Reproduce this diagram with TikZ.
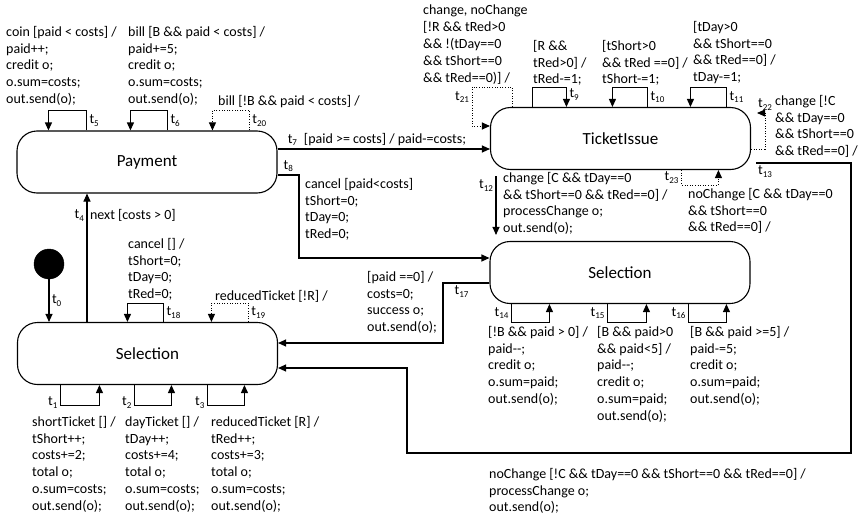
\documentclass[tikz,border=0pt]{standalone}
\usepackage{fontspec}
\setmainfont{Carlito}
\usetikzlibrary{arrows.meta}
\newcommand{\fs}{\fontsize{14}{16.8}\selectfont}
\newcommand{\tlab}[1]{t\raisebox{-2.5pt}{\fontsize{9}{9}\selectfont #1}}
\tikzset{
  state/.style={draw, line width=1.1pt, rounded corners=20pt, minimum width=260pt,
    minimum height=62pt, inner sep=0pt, font=\fontsize{17}{20}\selectfont},
  tr/.style={line width=1.1pt, -{Triangle[length=8pt,width=7pt]}},
  dtr/.style={tr, line width=1pt, dash pattern=on 1pt off 1.6pt},
  txt/.style={anchor=north west, inner sep=0pt, align=left, font=\fs},
  lab/.style={inner sep=2.5pt, font=\fs},
}

\begin{document}
\begin{tikzpicture}[x=1pt, y=-1pt]
  \useasboundingbox (0,0) rectangle (859,514);
  % states
  \node[state] (pay) at (147,162) {Payment};
  \node[state] (tick) at (620.5,138.5) {TicketIssue};
  \node[state] (selR) at (620,272.5) {Selection};
  \node[state] (selL) at (147.5,353.5) {Selection};
  \node[draw, fill, circle, minimum size=30pt, inner sep=0pt] (init) at (49,264) {};

  % bend points
  \coordinate (k4) at (87,0);
  \coordinate (k7) at (0,149);
  \coordinate (k8a) at (299,175);
  \coordinate (k8b) at (299,258);
  \coordinate (k12) at (496,0);
  \coordinate (k13a) at (851,163);
  \coordinate (k13b) at (851,453);
  \coordinate (k13c) at (407,453);
  \coordinate (k13d) at (407,368);
  \coordinate (k17a) at (443,283);
  \coordinate (k17b) at (443,343);
  \coordinate (k21a) at (512,87);
  \coordinate (k21b) at (472,126);
  \coordinate (k22a) at (765,149);
  \coordinate (k22b) at (765,113);

  % Selection (left)
  \draw[tr] (init) -- node[lab, right]{\tlab{0}} (selL.north -| init);
  \draw[tr] (selL.north -| k4) -- node[lab, left, pos=0.83]{\tlab{4}}
    node[lab, right, pos=0.83]{next [costs > 0]} (pay.south -| k4);
  \draw[tr] ([xshift=146.5pt]selL.north west) -- node[lab, right]{\tlab{18}} ++(0,-18.5) -| ([xshift=110.5pt]selL.north west);
  \draw[dtr] ([xshift=231.5pt]selL.north west) -- node[lab, right]{\tlab{19}} ++(0,-18.5) -| ([xshift=194.5pt]selL.north west);
  \draw[tr] ([xshift=43.5pt]selL.south west) -- node[lab, left, pos=0.85]{\tlab{1}} ++(0,20.5) -| ([xshift=82.5pt]selL.south west);
  \draw[tr] ([xshift=117.5pt]selL.south west) -- node[lab, left, pos=0.85]{\tlab{2}} ++(0,20.5) -| ([xshift=154.5pt]selL.south west);
  \draw[tr] ([xshift=190.5pt]selL.south west) -- node[lab, left, pos=0.85]{\tlab{3}} ++(0,20.5) -| ([xshift=227.5pt]selL.south west);

  % Payment
  \draw[tr] ([xshift=70pt]pay.north west) -- node[lab, right]{\tlab{5}} ++(0,-20) -| ([xshift=32pt]pay.north west);
  \draw[tr] ([xshift=151pt]pay.north west) -- node[lab, right]{\tlab{6}} ++(0,-20) -| ([xshift=114pt]pay.north west);
  \draw[dtr] ([xshift=233pt]pay.north west) -- node[lab, right]{\tlab{20}} ++(0,-20) -| ([xshift=196pt]pay.north west);
  \draw[tr] (pay.east |- k7) -- node[lab, above, pos=0.07]{\tlab{7}}
    node[lab, above right, pos=0.11]{[paid >= costs] / paid-=costs;} (tick.west |- k7);
  \draw[tr] (pay.east |- k8a) -- node[lab, above]{\tlab{8}} (k8a) -- (k8b) -- (selR.west |- k8b);

  % TicketIssue
  \draw[dtr] (tick.north -| k21a) -- (k21a) -| node[lab, left, pos=0.63]{\tlab{21}} (k21b) -- (tick.west |- k21b);
  \draw[tr] ([xshift=42.5pt]tick.north west) -- ++(0,-19.5) -| node[lab, right, pos=0.68]{\tlab{9}} ([xshift=76.5pt]tick.north west);
  \draw[tr] ([xshift=157.5pt]tick.north west) -- node[lab, right]{\tlab{10}} ++(0,-19.5) -| ([xshift=122.5pt]tick.north west);
  \draw[tr] ([xshift=236.5pt]tick.north west) -- node[lab, right]{\tlab{11}} ++(0,-19.5) -| ([xshift=200.5pt]tick.north west);
  \draw[dtr, shorten >=6pt] (tick.east |- k22a) -- (k22a) -- (k22b) node[lab, above]{\tlab{22}} -- (tick.east |- k22b);
  \draw[dtr] ([xshift=191.5pt]tick.south west) -- node[lab, left]{\tlab{23}} ++(0,15) -| ([xshift=228.5pt]tick.south west);
  \draw[tr, shorten <=6pt, shorten >=6pt] (tick.south -| k12) -- node[lab, left, pos=0.22]{\tlab{12}} (selR.north -| k12);
  \draw[tr, shorten <=5pt] (tick.east |- k13a) -- node[lab, below, pos=0.14]{\tlab{13}} (k13a) -- (k13b) -- (k13c) -- (k13d) -- (selL.east |- k13d);

  % Selection (right)
  \draw[tr] (selR.west |- k17a) -- node[lab, below, pos=0.6]{\tlab{17}} (k17a) -- (k17b) -- (selL.east |- k17b);
  \draw[tr] ([xshift=22pt]selR.south west) -- node[lab, left]{\tlab{14}} ++(0,18.5) -| ([xshift=60pt]selR.south west);
  \draw[tr] ([xshift=118pt]selR.south west) -- node[lab, left]{\tlab{15}} ++(0,18.5) -| ([xshift=157pt]selR.south west);
  \draw[tr] ([xshift=199pt]selR.south west) -- node[lab, left]{\tlab{16}} ++(0,18.5) -| ([xshift=237pt]selR.south west);

  % transition texts
  \node[txt] (x5) at (6,26) {coin [paid < costs] /\\paid++;\\credit o;\\o.sum=costs;\\out.send(o);};
  \node[txt] (x6) at (128,26) {bill [B \&\& paid < costs] /\\paid+=5;\\credit o;\\o.sum=costs;\\out.send(o);};
  \node[txt] (x20) at (218,95) {bill [!B \&\& paid < costs] /};
  \node[txt] (x8) at (305,178) {cancel [paid<costs]\\tShort=0;\\tDay=0;\\tRed=0;};
  \node[txt] (x18) at (128,238) {cancel [] /\\tShort=0;\\tDay=0;\\tRed=0;};
  \node[txt] (x19) at (215,290) {reducedTicket [!R] /};
  \node[txt] (x17) at (367,271) {[paid ==0] /\\costs=0;\\success o;\\out.send(o);};
  \node[txt] (x1) at (32,416) {shortTicket [] /\\tShort++;\\costs+=2;\\total o;\\o.sum=costs;\\out.send(o);};
  \node[txt] (x2) at (125,416) {dayTicket [] /\\tDay++;\\costs+=4;\\total o;\\o.sum=costs;\\out.send(o);};
  \node[txt] (x3) at (211,416) {reducedTicket [R] /\\tRed++;\\costs+=3;\\total o;\\o.sum=costs;\\out.send(o);};
  \node[txt] (x14) at (488,326) {[!B \&\& paid > 0] /\\paid-{}-;\\credit o;\\o.sum=paid;\\out.send(o);};
  \node[txt] (x15) at (597,326) {[B \&\& paid>0\\\&\& paid<5] /\\paid-{}-;\\credit o;\\o.sum=paid;\\out.send(o);};
  \node[txt] (x16) at (690,326) {[B \&\& paid >=5] /\\paid-=5;\\credit o;\\o.sum=paid;\\out.send(o);};
  \node[txt] (x13) at (489,468) {noChange [!C \&\& tDay==0 \&\& tShort==0 \&\& tRed==0] /\\processChange o;\\out.send(o);};
  \node[txt] (x12) at (503,172) {change [C \&\& tDay==0\\\&\& tShort==0 \&\& tRed==0] /\\processChange o;\\out.send(o);};
  \node[txt] (x23) at (688,188) {noChange [C \&\& tDay==0\\\&\& tShort==0\\\&\& tRed==0] /};
  \node[txt] (x22) at (775,95) {change [!C\\\&\& tDay==0\\\&\& tShort==0\\\&\& tRed==0] /};
  \node[txt] (x21) at (423,5) {change, noChange\\{}[!R \&\& tRed>0\\\&\& !(tDay==0\\\&\& tShort==0\\\&\& tRed==0)] /};
  \node[txt] (x9) at (533,40) {[R \&\&\\tRed>0] /\\tRed-=1;};
  \node[txt] (x10) at (602,40) {[tShort>0\\\&\& tRed ==0] /\\tShort-=1;};
  \node[txt] (x11) at (693,21) {[tDay>0\\\&\& tShort==0\\\&\& tRed==0] /\\tDay-=1;};
\end{tikzpicture}
\end{document}
